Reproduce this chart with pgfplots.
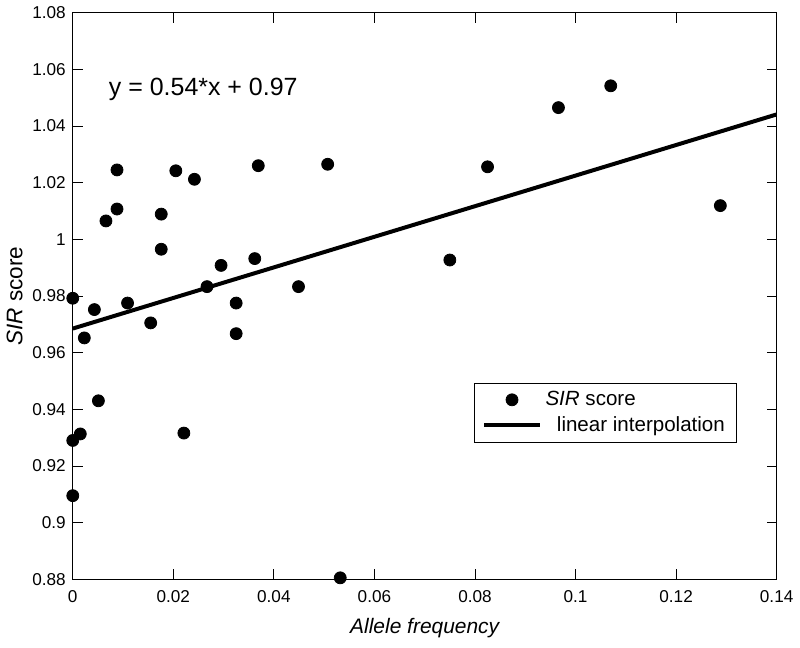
\documentclass[border=0pt]{standalone}
\usepackage{pgfplots}
\pgfplotsset{compat=1.18}
\usepackage{fontspec}
\setmainfont{Liberation Sans}

\pgfplotstableread{
x y
0.0000 0.9792
0.0000 0.9290
0.0000 0.9095
0.0015 0.9313
0.0023 0.9652
0.0043 0.9752
0.0051 0.9430
0.0066 1.0065
0.0088 1.0107
0.0088 1.0245
0.0109 0.9775
0.0155 0.9705
0.0176 1.0089
0.0176 0.9965
0.0205 1.0242
0.0221 0.9316
0.0242 1.0212
0.0267 0.9833
0.0295 0.9908
0.0325 0.9775
0.0325 0.9667
0.0362 0.9932
0.0369 1.0260
0.0449 0.9833
0.0507 1.0265
0.0532 0.8805
0.0750 0.9927
0.0825 1.0256
0.0966 1.0465
0.1070 1.0542
0.1288 1.0119
}\scores

\begin{document}
\begin{tikzpicture}
\begin{axis}[
    width=12.4cm, height=9.98cm,
    scale only axis,
    xmin=0, xmax=0.14,
    ymin=0.88, ymax=1.08,
    xtick={0,0.02,...,0.14},
    ytick={0.88,0.9,...,1.08},
    tick align=inside,
    tick style={black, thin},
    major tick length=5pt,
    axis line style={black, thin},
    tick label style={font=\fontsize{8.6}{10}\selectfont},
    /pgf/number format/assume math mode=true,
    xticklabel style={/pgf/number format/fixed, /pgf/number format/precision=2, yshift=-2pt},
    yticklabel style={/pgf/number format/fixed, /pgf/number format/precision=2},
    scaled x ticks=false,
    scaled y ticks=false,
    xlabel={\itshape Allele frequency},
    ylabel={\textit{SIR} score},
    xlabel style={font=\fontsize{10.5}{12}\selectfont, yshift=-1pt},
    ylabel style={font=\fontsize{11.3}{13}\selectfont, yshift=-2pt},
    legend style={at={(0.944,0.241)}, anchor=south east, draw=black,
        font=\fontsize{10.3}{12}\selectfont, inner xsep=4pt, inner ysep=2pt,
        row sep=0pt},
    legend cell align=left,
]
\addplot[only marks, mark=*, mark size=3pt, black,
    legend image code/.code={\fill[black] (0.485cm,0cm) circle (3pt);
        \path[draw=none, fill=none] (0cm,0cm) -- (0.97cm,0cm);}]
    table[x=x, y=y] {\scores};
\addlegendentry{\textit{SIR} score}
\addplot[black, line width=2pt,
    legend image code/.code={\draw[black, line width=2pt] (0cm,0cm) -- (0.97cm,0cm);}]
    coordinates {(0,0.9685) (0.14,1.0441)};
\addlegendentry{\ \ linear interpolation}
\node[anchor=west, font=\fontsize{12.5}{14}\selectfont] at (axis cs:0.0058,1.0528) {y = 0.54*x + 0.97};
\end{axis}
\path (0,-1.2cm) -- (1cm,-1.2cm);
\end{tikzpicture}
\end{document}
